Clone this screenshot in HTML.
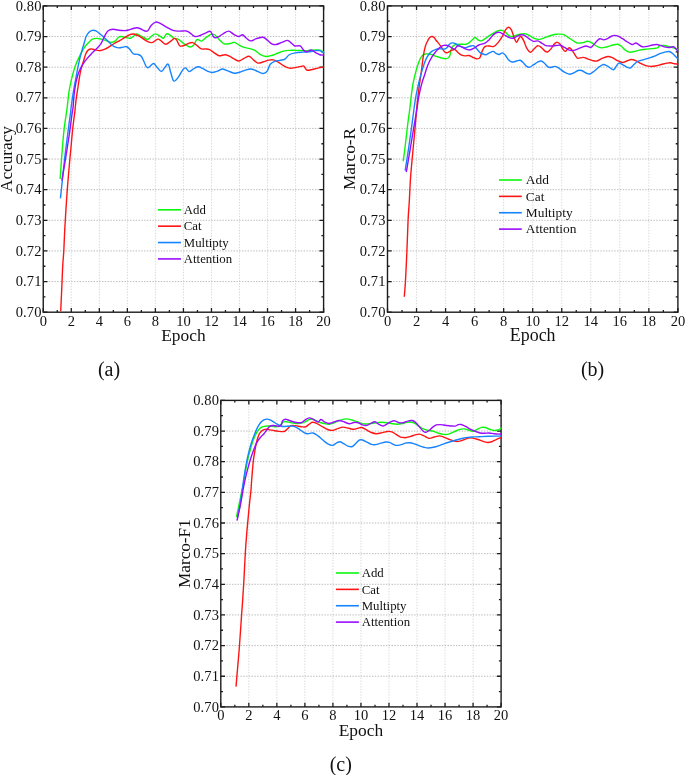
<!DOCTYPE html>
<html><head><meta charset="utf-8"><title>Figure</title>
<style>
html,body{margin:0;padding:0;background:#fff;}
body{width:685px;height:775px;overflow:hidden;}
svg{display:block;}
text{font-family:"Liberation Serif",serif;fill:#111;}
.tk{font-size:14.5px;}
.ty{letter-spacing:0.12px;}
.ax{font-size:17.2px;}
.lg{font-size:12.8px;}
.cp{font-size:20px;}
</style></head><body>
<svg width="685" height="775" viewBox="0 0 685 775">
<rect width="685" height="775" fill="#fff"/>
<g>
<path d="M71.28,5.90V312.20M99.32,5.90V312.20M127.36,5.90V312.20M155.39,5.90V312.20M183.43,5.90V312.20M211.46,5.90V312.20M239.50,5.90V312.20M267.53,5.90V312.20M295.57,5.90V312.20" fill="none" stroke="#d9d9d9" stroke-width="1" stroke-dasharray="1.4,1.4"/>
<path d="M43.25,36.53H323.60M43.25,67.16H323.60M43.25,97.79H323.60M43.25,128.42H323.60M43.25,159.05H323.60M43.25,189.68H323.60M43.25,220.31H323.60M43.25,250.94H323.60M43.25,281.57H323.60" fill="none" stroke="#bababa" stroke-width="1" stroke-dasharray="1.4,1.4"/>
<path d="M43.25,312.20v-4.20M43.25,5.90v4.20M57.27,312.20v-2.20M57.27,5.90v2.20M71.28,312.20v-4.20M71.28,5.90v4.20M85.30,312.20v-2.20M85.30,5.90v2.20M99.32,312.20v-4.20M99.32,5.90v4.20M113.34,312.20v-2.20M113.34,5.90v2.20M127.36,312.20v-4.20M127.36,5.90v4.20M141.37,312.20v-2.20M141.37,5.90v2.20M155.39,312.20v-4.20M155.39,5.90v4.20M169.41,312.20v-2.20M169.41,5.90v2.20M183.43,312.20v-4.20M183.43,5.90v4.20M197.44,312.20v-2.20M197.44,5.90v2.20M211.46,312.20v-4.20M211.46,5.90v4.20M225.48,312.20v-2.20M225.48,5.90v2.20M239.50,312.20v-4.20M239.50,5.90v4.20M253.51,312.20v-2.20M253.51,5.90v2.20M267.53,312.20v-4.20M267.53,5.90v4.20M281.55,312.20v-2.20M281.55,5.90v2.20M295.57,312.20v-4.20M295.57,5.90v4.20M309.58,312.20v-2.20M309.58,5.90v2.20M323.60,312.20v-4.20M323.60,5.90v4.20M43.25,5.90h4.20M323.60,5.90h-4.20M43.25,21.22h2.20M323.60,21.22h-2.20M43.25,36.53h4.20M323.60,36.53h-4.20M43.25,51.85h2.20M323.60,51.85h-2.20M43.25,67.16h4.20M323.60,67.16h-4.20M43.25,82.48h2.20M323.60,82.48h-2.20M43.25,97.79h4.20M323.60,97.79h-4.20M43.25,113.11h2.20M323.60,113.11h-2.20M43.25,128.42h4.20M323.60,128.42h-4.20M43.25,143.74h2.20M323.60,143.74h-2.20M43.25,159.05h4.20M323.60,159.05h-4.20M43.25,174.37h2.20M323.60,174.37h-2.20M43.25,189.68h4.20M323.60,189.68h-4.20M43.25,205.00h2.20M323.60,205.00h-2.20M43.25,220.31h4.20M323.60,220.31h-4.20M43.25,235.63h2.20M323.60,235.63h-2.20M43.25,250.94h4.20M323.60,250.94h-4.20M43.25,266.25h2.20M323.60,266.25h-2.20M43.25,281.57h4.20M323.60,281.57h-4.20M43.25,296.88h2.20M323.60,296.88h-2.20M43.25,312.20h4.20M323.60,312.20h-4.20" fill="none" stroke="#1c1c1c" stroke-width="1.3"/>
<rect x="43.25" y="5.90" width="280.35" height="306.30" fill="none" stroke="#1c1c1c" stroke-width="1.4"/>
<clipPath id="ca"><rect x="43.25" y="5.20" width="281.05" height="307.70"/></clipPath>
<g clip-path="url(#ca)" fill="none" stroke-width="1.4" stroke-linejoin="round" stroke-linecap="butt">
<path d="M60.15,179.05C60.44,174.91 61.24,162.51 61.90,154.23C62.55,145.96 63.22,137.12 64.09,129.42C64.96,121.71 66.31,114.11 67.11,107.98C67.90,101.85 68.20,97.09 68.86,92.63C69.52,88.17 70.32,84.59 71.05,81.23C71.78,77.87 72.51,75.09 73.25,72.46C73.98,69.82 74.56,67.78 75.44,65.44C76.32,63.10 77.41,60.76 78.51,58.42C79.61,56.08 80.77,53.60 82.02,51.40C83.26,49.21 84.65,46.94 85.96,45.26C87.28,43.58 88.85,42.34 89.91,41.32C90.97,40.29 91.20,39.61 92.34,39.12C93.47,38.64 95.26,38.39 96.72,38.39C98.18,38.39 99.39,38.71 101.09,39.12C102.80,39.54 105.23,40.34 106.93,40.88C108.64,41.41 109.98,42.29 111.31,42.34C112.65,42.38 113.75,42.02 114.96,41.17C116.18,40.32 117.52,38.00 118.61,37.23C119.71,36.45 120.32,36.45 121.53,36.50C122.75,36.55 124.45,37.23 125.91,37.52C127.37,37.81 128.95,38.54 130.29,38.25C131.63,37.96 132.85,36.47 133.94,35.77C135.04,35.06 135.77,34.01 136.86,34.01C137.96,34.01 139.17,35.06 140.51,35.77C141.85,36.47 143.67,37.64 144.89,38.25C146.11,38.86 146.64,39.83 147.81,39.42C148.98,39.00 150.61,36.69 151.90,35.77C153.19,34.84 154.21,33.82 155.55,33.87C156.89,33.92 158.59,35.33 159.93,36.06C161.27,36.79 162.48,38.61 163.58,38.25C164.67,37.88 165.40,34.40 166.50,33.87C167.59,33.33 168.93,34.31 170.15,35.04C171.36,35.77 172.46,37.57 173.80,38.25C175.13,38.93 176.47,38.20 178.18,39.12C179.88,40.05 182.07,42.48 184.01,43.80C185.96,45.11 188.27,46.76 189.85,47.01C191.44,47.25 192.29,46.52 193.50,45.26C194.72,43.99 195.82,40.10 197.15,39.42C198.49,38.73 200.07,41.46 201.53,41.17C202.99,40.88 204.45,38.76 205.91,37.66C207.37,36.57 208.83,35.09 210.29,34.60C211.75,34.11 213.21,33.94 214.67,34.74C216.13,35.55 217.47,37.91 219.05,39.42C220.63,40.92 222.32,43.11 224.16,43.80C226.00,44.48 228.39,43.75 230.11,43.50C231.83,43.26 233.03,42.09 234.49,42.34C235.95,42.58 237.29,44.11 238.87,44.96C240.45,45.82 242.15,46.84 243.98,47.45C245.80,48.05 247.99,48.13 249.82,48.61C251.64,49.10 253.22,49.42 254.93,50.36C256.63,51.31 258.21,53.28 260.04,54.31C261.86,55.33 263.93,56.30 265.88,56.50C267.82,56.69 269.77,56.01 271.72,55.47C273.66,54.94 275.61,54.01 277.55,53.28C279.50,52.55 281.45,51.58 283.39,51.09C285.34,50.61 286.80,50.49 289.23,50.36C291.67,50.24 295.07,50.32 297.99,50.36C300.91,50.41 303.83,50.73 306.75,50.66C309.67,50.58 313.32,50.02 315.51,49.93C317.70,49.83 318.63,49.76 319.89,50.07C321.16,50.39 322.35,51.41 323.10,51.82C323.85,52.23 324.18,52.41 324.40,52.53" stroke="#0CF60C"/>
<path d="M60.70,311.20C60.85,308.00 61.33,298.03 61.60,292.00C61.87,285.97 62.08,279.83 62.30,275.00C62.52,270.17 62.65,267.05 62.90,263.00C63.15,258.95 63.48,256.40 63.80,250.70C64.12,245.00 64.43,235.85 64.80,228.80C65.17,221.75 65.58,214.97 66.00,208.40C66.42,201.83 66.88,195.00 67.30,189.40C67.72,183.80 68.07,179.90 68.50,174.80C68.93,169.70 69.50,163.20 69.90,158.80C70.30,154.40 70.42,153.53 70.90,148.40C71.38,143.27 72.12,134.33 72.80,128.00C73.48,121.67 74.60,113.74 75.00,110.40C75.40,107.06 74.96,110.07 75.18,107.98C75.39,105.90 75.83,101.48 76.32,97.89C76.80,94.31 77.49,90.29 78.07,86.49C78.65,82.69 79.24,78.30 79.82,75.09C80.41,71.87 80.92,69.68 81.58,67.19C82.24,64.71 83.11,62.30 83.77,60.18C84.43,58.06 84.87,56.08 85.53,54.47C86.18,52.87 86.84,51.45 87.72,50.53C88.60,49.61 89.77,49.12 90.79,48.95C91.81,48.77 92.76,49.24 93.86,49.47C94.96,49.71 96.20,50.18 97.37,50.35C98.54,50.53 99.53,50.77 100.88,50.53C102.23,50.29 103.98,49.61 105.47,48.91C106.97,48.20 108.39,47.18 109.85,46.28C111.31,45.38 112.53,44.48 114.23,43.50C115.94,42.53 118.37,41.41 120.07,40.44C121.78,39.46 122.99,38.56 124.45,37.66C125.91,36.76 127.37,35.64 128.83,35.04C130.29,34.43 131.75,33.94 133.21,34.01C134.67,34.09 136.13,34.82 137.59,35.47C139.05,36.13 140.51,37.06 141.97,37.96C143.43,38.86 144.70,40.10 146.35,40.88C148.00,41.65 150.00,42.92 151.90,42.63C153.80,42.34 156.16,39.37 157.74,39.12C159.32,38.88 160.05,40.32 161.39,41.17C162.73,42.02 164.31,44.16 165.77,44.23C167.23,44.31 168.69,42.58 170.15,41.61C171.61,40.63 173.43,38.64 174.53,38.39C175.62,38.15 175.86,38.93 176.72,40.15C177.57,41.36 178.42,44.79 179.64,45.69C180.85,46.59 182.55,45.91 184.01,45.55C185.47,45.18 186.93,43.99 188.39,43.50C189.85,43.02 191.31,42.26 192.77,42.63C194.23,42.99 195.69,44.65 197.15,45.69C198.61,46.74 200.07,48.37 201.53,48.91C202.99,49.44 204.57,48.78 205.91,48.91C207.25,49.03 208.22,49.03 209.56,49.64C210.90,50.24 212.36,51.53 213.94,52.55C215.52,53.58 217.23,55.40 219.05,55.77C220.88,56.13 223.17,54.67 224.89,54.74C226.61,54.82 227.78,55.47 229.38,56.20C230.98,56.93 232.91,58.32 234.49,59.12C236.07,59.93 237.29,61.14 238.87,61.02C240.45,60.90 242.27,59.20 243.98,58.39C245.68,57.59 247.51,55.96 249.09,56.20C250.67,56.45 252.01,58.71 253.47,59.85C254.93,61.00 256.27,62.70 257.85,63.07C259.43,63.43 261.13,62.53 262.96,62.04C264.78,61.56 267.09,60.51 268.80,60.15C270.50,59.78 271.72,59.61 273.18,59.85C274.64,60.10 275.85,60.63 277.55,61.61C279.26,62.58 281.45,64.60 283.39,65.69C285.34,66.79 287.29,67.86 289.23,68.18C291.18,68.49 293.13,67.88 295.07,67.59C297.02,67.30 299.45,66.67 300.91,66.42C302.37,66.18 302.86,65.52 303.83,66.13C304.81,66.74 305.54,69.46 306.75,70.07C307.97,70.68 309.43,70.07 311.13,69.78C312.83,69.49 314.98,68.76 316.97,68.32C318.97,67.88 321.86,67.39 323.10,67.15C324.34,66.92 324.18,66.95 324.40,66.91" stroke="#FF1414"/>
<path d="M60.44,198.32C60.80,194.87 61.90,184.45 62.63,177.59C63.36,170.73 63.97,164.45 64.82,157.15C65.67,149.85 66.76,141.34 67.74,133.80C68.71,126.25 70.10,116.20 70.66,111.90C71.21,107.60 70.62,111.19 71.05,107.98C71.48,104.77 72.51,97.24 73.25,92.63C73.98,88.03 74.71,84.30 75.44,80.35C76.17,76.40 76.90,72.60 77.63,68.95C78.36,65.29 79.02,61.78 79.82,58.42C80.63,55.06 81.58,51.84 82.46,48.77C83.33,45.70 84.54,41.92 85.09,40.00C85.64,38.08 85.17,38.49 85.77,37.23C86.37,35.96 87.59,33.55 88.69,32.41C89.78,31.27 91.12,30.61 92.34,30.36C93.55,30.12 94.65,30.29 95.99,30.95C97.32,31.61 98.78,33.02 100.36,34.31C101.95,35.60 103.89,37.23 105.47,38.69C107.06,40.15 108.39,41.73 109.85,43.07C111.31,44.40 112.77,45.91 114.23,46.72C115.69,47.52 117.15,47.81 118.61,47.88C120.07,47.96 121.65,47.35 122.99,47.15C124.33,46.96 125.55,46.42 126.64,46.72C127.74,47.01 128.47,47.74 129.56,48.91C130.66,50.07 131.87,52.82 133.21,53.72C134.55,54.62 136.25,53.89 137.59,54.31C138.93,54.72 140.15,54.91 141.24,56.20C142.34,57.49 143.11,60.10 144.16,62.04C145.21,63.99 145.99,67.64 147.52,67.88C149.05,68.13 151.78,63.63 153.36,63.50C154.94,63.38 155.67,65.82 157.01,67.15C158.35,68.49 160.05,71.53 161.39,71.53C162.73,71.53 163.89,68.37 165.04,67.15C166.18,65.94 167.27,63.26 168.25,64.23C169.22,65.21 169.95,70.19 170.88,72.99C171.80,75.79 172.58,80.29 173.80,81.02C175.01,81.75 176.72,79.20 178.18,77.37C179.64,75.55 181.34,71.65 182.55,70.07C183.77,68.49 184.38,67.64 185.47,67.88C186.57,68.13 187.91,71.29 189.12,71.53C190.34,71.78 191.31,70.15 192.77,69.34C194.23,68.54 196.18,66.84 197.88,66.72C199.59,66.59 201.41,67.88 202.99,68.61C204.57,69.34 205.91,70.44 207.37,71.09C208.83,71.75 210.05,72.55 211.75,72.55C213.45,72.55 215.77,71.68 217.59,71.09C219.42,70.51 220.74,68.98 222.70,69.05C224.67,69.12 227.41,70.83 229.38,71.53C231.34,72.24 232.79,73.16 234.49,73.28C236.19,73.41 237.77,72.80 239.60,72.26C241.42,71.73 243.61,70.61 245.44,70.07C247.26,69.54 248.84,68.98 250.55,69.05C252.25,69.12 254.08,69.93 255.66,70.51C257.24,71.09 258.70,72.07 260.04,72.55C261.37,73.04 262.47,73.72 263.69,73.43C264.90,73.14 266.24,72.34 267.34,70.80C268.43,69.27 269.04,65.82 270.26,64.23C271.47,62.65 272.93,61.97 274.64,61.31C276.34,60.66 278.77,60.66 280.47,60.29C282.18,59.93 283.39,60.05 284.85,59.12C286.31,58.20 287.53,55.79 289.23,54.74C290.94,53.70 292.88,53.28 295.07,52.85C297.26,52.41 299.94,52.29 302.37,52.12C304.81,51.95 307.48,52.07 309.67,51.82C311.86,51.58 313.81,50.85 315.51,50.66C317.21,50.46 318.63,50.34 319.89,50.66C321.16,50.97 322.35,52.11 323.10,52.55C323.85,53.00 324.18,53.19 324.40,53.32" stroke="#1684FF"/>
<path d="M61.90,180.51C62.51,176.86 64.33,166.16 65.55,158.61C66.76,151.07 68.10,142.80 69.20,135.26C70.29,127.71 71.49,117.90 72.12,113.36C72.75,108.81 72.65,111.14 72.98,107.98C73.32,104.82 73.64,98.55 74.12,94.39C74.61,90.22 75.22,86.35 75.88,82.98C76.54,79.62 77.27,76.70 78.07,74.21C78.87,71.73 79.75,69.97 80.70,68.07C81.65,66.17 82.75,64.34 83.77,62.81C84.80,61.27 85.60,60.32 86.84,58.86C88.08,57.40 89.62,55.72 91.23,54.04C92.84,52.35 94.88,50.45 96.49,48.77C98.10,47.09 99.62,45.87 100.88,43.95C102.13,42.02 103.01,39.20 104.01,37.23C105.02,35.25 105.96,33.33 106.93,32.12C107.91,30.90 108.76,30.41 109.85,29.93C110.95,29.44 112.04,29.15 113.50,29.20C114.96,29.25 116.79,29.98 118.61,30.22C120.44,30.46 122.75,30.71 124.45,30.66C126.16,30.61 127.37,30.29 128.83,29.93C130.29,29.56 131.87,28.83 133.21,28.47C134.55,28.10 135.64,27.69 136.86,27.74C138.08,27.79 139.17,28.22 140.51,28.76C141.85,29.29 143.67,30.63 144.89,30.95C146.11,31.27 146.76,31.56 147.81,30.66C148.86,29.76 149.88,26.96 151.17,25.55C152.46,24.14 154.21,22.63 155.55,22.19C156.89,21.75 157.37,22.12 159.20,22.92C161.02,23.72 164.06,25.72 166.50,27.01C168.93,28.30 171.61,29.98 173.80,30.66C175.99,31.34 177.57,31.05 179.64,31.09C181.70,31.14 184.50,30.66 186.20,30.95C187.91,31.24 188.39,31.92 189.85,32.85C191.31,33.77 193.26,36.06 194.96,36.50C196.67,36.93 198.25,36.08 200.07,35.47C201.90,34.87 204.21,33.53 205.91,32.85C207.62,32.17 208.95,30.66 210.29,31.39C211.63,32.12 212.73,36.25 213.94,37.23C215.16,38.20 216.01,37.83 217.59,37.23C219.17,36.62 221.59,34.60 223.43,33.58C225.27,32.55 226.93,30.97 228.65,31.09C230.37,31.22 232.06,33.41 233.76,34.31C235.46,35.21 237.41,36.42 238.87,36.50C240.33,36.57 241.30,34.50 242.52,34.74C243.73,34.99 244.83,36.93 246.17,37.96C247.51,38.98 248.84,40.75 250.55,40.88C252.25,41.00 254.32,39.29 256.39,38.69C258.45,38.08 261.13,36.98 262.96,37.23C264.78,37.47 265.88,39.05 267.34,40.15C268.80,41.24 270.26,43.07 271.72,43.80C273.18,44.53 274.39,44.77 276.09,44.53C277.80,44.28 279.99,43.02 281.93,42.34C283.88,41.65 286.07,40.19 287.77,40.44C289.48,40.68 290.94,42.87 292.15,43.80C293.37,44.72 293.73,45.62 295.07,45.99C296.41,46.35 298.72,45.26 300.18,45.99C301.64,46.72 302.74,49.39 303.83,50.36C304.93,51.34 305.54,51.87 306.75,51.82C307.97,51.78 309.67,49.95 311.13,50.07C312.59,50.19 314.05,51.78 315.51,52.55C316.97,53.33 318.63,54.31 319.89,54.74C321.16,55.18 322.35,55.08 323.10,55.18C323.85,55.28 324.18,55.33 324.40,55.36" stroke="#9A0CFF"/>
</g>
<text x="43.25" y="325.50" text-anchor="middle" class="tk">0</text>
<text x="71.28" y="325.50" text-anchor="middle" class="tk">2</text>
<text x="99.32" y="325.50" text-anchor="middle" class="tk">4</text>
<text x="127.36" y="325.50" text-anchor="middle" class="tk">6</text>
<text x="155.39" y="325.50" text-anchor="middle" class="tk">8</text>
<text x="183.43" y="325.50" text-anchor="middle" class="tk">10</text>
<text x="211.46" y="325.50" text-anchor="middle" class="tk">12</text>
<text x="239.50" y="325.50" text-anchor="middle" class="tk">14</text>
<text x="267.53" y="325.50" text-anchor="middle" class="tk">16</text>
<text x="295.57" y="325.50" text-anchor="middle" class="tk">18</text>
<text x="323.60" y="325.50" text-anchor="middle" class="tk">20</text>
<text x="41.60" y="10.60" text-anchor="end" class="tk ty">0.80</text>
<text x="41.60" y="41.23" text-anchor="end" class="tk ty">0.79</text>
<text x="41.60" y="71.86" text-anchor="end" class="tk ty">0.78</text>
<text x="41.60" y="102.49" text-anchor="end" class="tk ty">0.77</text>
<text x="41.60" y="133.12" text-anchor="end" class="tk ty">0.76</text>
<text x="41.60" y="163.75" text-anchor="end" class="tk ty">0.75</text>
<text x="41.60" y="194.38" text-anchor="end" class="tk ty">0.74</text>
<text x="41.60" y="225.01" text-anchor="end" class="tk ty">0.73</text>
<text x="41.60" y="255.64" text-anchor="end" class="tk ty">0.72</text>
<text x="41.60" y="286.27" text-anchor="end" class="tk ty">0.71</text>
<text x="41.60" y="316.90" text-anchor="end" class="tk ty">0.70</text>
<text x="183.43" y="341.20" text-anchor="middle" class="ax" style="font-size:17.4px">Epoch</text>
<text transform="translate(12.20,159.05) rotate(-90)" text-anchor="middle" class="ax">Accuracy</text>
<path d="M158.00,209.80h23.00" stroke="#0CF60C" stroke-width="1.6" fill="none"/>
<text x="183.80" y="214.00" class="lg" style="font-size:12.8px">Add</text>
<path d="M158.00,226.17h23.00" stroke="#FF1414" stroke-width="1.6" fill="none"/>
<text x="183.80" y="230.37" class="lg" style="font-size:12.8px">Cat</text>
<path d="M158.00,242.54h23.00" stroke="#1684FF" stroke-width="1.6" fill="none"/>
<text x="183.80" y="246.74" class="lg" style="font-size:12.8px">Multipty</text>
<path d="M158.00,258.91h23.00" stroke="#9A0CFF" stroke-width="1.6" fill="none"/>
<text x="183.80" y="263.11" class="lg" style="font-size:12.8px">Attention</text>
</g>
<g>
<path d="M416.54,5.90V312.20M445.58,5.90V312.20M474.62,5.90V312.20M503.66,5.90V312.20M532.70,5.90V312.20M561.74,5.90V312.20M590.78,5.90V312.20M619.82,5.90V312.20M648.86,5.90V312.20" fill="none" stroke="#d9d9d9" stroke-width="1" stroke-dasharray="1.4,1.4"/>
<path d="M387.50,36.53H677.90M387.50,67.16H677.90M387.50,97.79H677.90M387.50,128.42H677.90M387.50,159.05H677.90M387.50,189.68H677.90M387.50,220.31H677.90M387.50,250.94H677.90M387.50,281.57H677.90" fill="none" stroke="#bababa" stroke-width="1" stroke-dasharray="1.4,1.4"/>
<path d="M387.50,312.20v-4.20M387.50,5.90v4.20M402.02,312.20v-2.20M402.02,5.90v2.20M416.54,312.20v-4.20M416.54,5.90v4.20M431.06,312.20v-2.20M431.06,5.90v2.20M445.58,312.20v-4.20M445.58,5.90v4.20M460.10,312.20v-2.20M460.10,5.90v2.20M474.62,312.20v-4.20M474.62,5.90v4.20M489.14,312.20v-2.20M489.14,5.90v2.20M503.66,312.20v-4.20M503.66,5.90v4.20M518.18,312.20v-2.20M518.18,5.90v2.20M532.70,312.20v-4.20M532.70,5.90v4.20M547.22,312.20v-2.20M547.22,5.90v2.20M561.74,312.20v-4.20M561.74,5.90v4.20M576.26,312.20v-2.20M576.26,5.90v2.20M590.78,312.20v-4.20M590.78,5.90v4.20M605.30,312.20v-2.20M605.30,5.90v2.20M619.82,312.20v-4.20M619.82,5.90v4.20M634.34,312.20v-2.20M634.34,5.90v2.20M648.86,312.20v-4.20M648.86,5.90v4.20M663.38,312.20v-2.20M663.38,5.90v2.20M677.90,312.20v-4.20M677.90,5.90v4.20M387.50,5.90h4.20M677.90,5.90h-4.20M387.50,21.22h2.20M677.90,21.22h-2.20M387.50,36.53h4.20M677.90,36.53h-4.20M387.50,51.85h2.20M677.90,51.85h-2.20M387.50,67.16h4.20M677.90,67.16h-4.20M387.50,82.48h2.20M677.90,82.48h-2.20M387.50,97.79h4.20M677.90,97.79h-4.20M387.50,113.11h2.20M677.90,113.11h-2.20M387.50,128.42h4.20M677.90,128.42h-4.20M387.50,143.74h2.20M677.90,143.74h-2.20M387.50,159.05h4.20M677.90,159.05h-4.20M387.50,174.37h2.20M677.90,174.37h-2.20M387.50,189.68h4.20M677.90,189.68h-4.20M387.50,205.00h2.20M677.90,205.00h-2.20M387.50,220.31h4.20M677.90,220.31h-4.20M387.50,235.63h2.20M677.90,235.63h-2.20M387.50,250.94h4.20M677.90,250.94h-4.20M387.50,266.25h2.20M677.90,266.25h-2.20M387.50,281.57h4.20M677.90,281.57h-4.20M387.50,296.88h2.20M677.90,296.88h-2.20M387.50,312.20h4.20M677.90,312.20h-4.20" fill="none" stroke="#1c1c1c" stroke-width="1.3"/>
<rect x="387.50" y="5.90" width="290.40" height="306.30" fill="none" stroke="#1c1c1c" stroke-width="1.4"/>
<clipPath id="cb"><rect x="387.50" y="5.20" width="291.10" height="307.70"/></clipPath>
<g clip-path="url(#cb)" fill="none" stroke-width="1.4" stroke-linejoin="round" stroke-linecap="butt">
<path d="M403.25,161.24C403.61,158.37 404.71,150.05 405.44,144.01C406.17,137.98 406.88,131.04 407.63,125.04C408.37,119.03 409.31,112.80 409.91,107.98C410.51,103.17 410.72,100.16 411.23,96.14C411.74,92.12 412.32,87.51 412.98,83.86C413.64,80.20 414.44,77.13 415.18,74.21C415.91,71.29 416.56,68.80 417.37,66.32C418.17,63.83 419.12,61.13 420.00,59.30C420.88,57.47 421.75,56.23 422.63,55.35C423.51,54.47 424.24,54.25 425.26,54.04C426.29,53.82 427.68,53.93 428.77,54.04C429.87,54.14 430.75,54.31 431.84,54.65C432.94,54.99 434.18,55.64 435.35,56.05C436.52,56.46 437.69,56.75 438.86,57.11C440.03,57.46 441.27,57.89 442.37,58.16C443.46,58.42 444.49,58.71 445.44,58.68C446.39,58.65 447.34,58.46 448.07,57.98C448.80,57.50 449.39,56.89 449.82,55.79C450.26,54.69 450.34,52.79 450.70,51.40C451.07,50.01 451.51,48.45 452.02,47.46C452.53,46.46 453.02,45.93 453.77,45.44C454.52,44.95 455.34,44.73 456.53,44.53C457.72,44.32 459.33,44.28 460.91,44.23C462.49,44.18 464.56,44.55 466.02,44.23C467.48,43.92 468.58,43.14 469.67,42.34C470.77,41.53 471.67,40.22 472.59,39.42C473.52,38.61 474.25,37.40 475.22,37.52C476.19,37.64 477.41,39.59 478.43,40.15C479.45,40.71 480.36,41.05 481.35,40.88C482.34,40.71 483.14,39.90 484.38,39.12C485.61,38.35 487.30,37.18 488.76,36.20C490.22,35.23 491.68,34.16 493.14,33.28C494.60,32.41 496.06,31.44 497.52,30.95C498.98,30.46 500.56,30.12 501.90,30.36C503.24,30.61 504.33,31.51 505.55,32.41C506.76,33.31 507.98,35.09 509.20,35.77C510.41,36.45 511.51,36.62 512.85,36.50C514.18,36.37 515.77,35.45 517.23,35.04C518.69,34.62 520.15,34.21 521.61,34.01C523.07,33.82 524.53,33.50 525.99,33.87C527.45,34.23 528.91,35.40 530.36,36.20C531.82,37.01 533.28,38.15 534.74,38.69C536.20,39.22 537.54,39.54 539.12,39.42C540.71,39.29 542.41,38.56 544.23,37.96C546.06,37.35 548.13,36.37 550.07,35.77C552.02,35.16 554.21,34.57 555.91,34.31C557.62,34.04 558.83,34.04 560.29,34.16C561.75,34.28 563.21,34.40 564.67,35.04C566.13,35.67 567.47,36.91 569.05,37.96C570.63,39.00 572.67,40.46 574.16,41.31C575.65,42.17 576.51,42.85 578.00,43.07C579.49,43.28 581.53,42.92 583.11,42.63C584.69,42.34 586.03,41.29 587.49,41.31C588.95,41.34 590.41,42.00 591.87,42.77C593.33,43.55 594.67,45.13 596.25,45.99C597.83,46.84 599.53,47.76 601.36,47.88C603.18,48.00 605.25,47.20 607.20,46.72C609.14,46.23 611.33,45.38 613.04,44.96C614.74,44.55 616.08,44.06 617.42,44.23C618.75,44.40 619.85,45.09 621.07,45.99C622.28,46.89 623.38,48.61 624.72,49.64C626.05,50.66 627.51,51.80 629.09,52.12C630.68,52.43 632.50,51.87 634.20,51.53C635.91,51.19 637.49,50.46 639.31,50.07C641.14,49.68 642.96,49.44 645.15,49.20C647.34,48.95 650.38,48.83 652.45,48.61C654.52,48.39 656.35,48.39 657.56,47.88C658.78,47.37 658.66,45.94 659.75,45.55C660.85,45.16 662.55,45.35 664.13,45.55C665.71,45.74 667.54,46.28 669.24,46.72C670.94,47.15 673.01,47.69 674.35,48.18C675.69,48.66 676.55,49.27 677.27,49.64C678.00,50.00 678.46,50.23 678.70,50.35" stroke="#0CF60C"/>
<path d="M404.27,296.79C404.46,294.28 405.00,289.37 405.44,281.75C405.88,274.14 406.46,261.31 406.90,251.09C407.34,240.88 407.65,228.95 408.07,220.44C408.48,211.92 408.97,207.14 409.38,200.00C409.79,192.86 409.99,185.46 410.55,177.59C411.11,169.72 412.01,160.80 412.74,152.77C413.47,144.74 414.26,136.88 414.93,129.42C415.60,121.95 416.25,113.53 416.75,107.98C417.26,102.44 417.51,100.16 417.98,96.14C418.45,92.12 419.01,87.95 419.56,83.86C420.12,79.77 420.80,75.38 421.32,71.58C421.83,67.78 422.19,64.27 422.63,61.05C423.07,57.84 423.44,54.91 423.95,52.28C424.46,49.65 425.04,47.24 425.70,45.26C426.36,43.29 427.26,41.71 427.89,40.44C428.53,39.17 428.89,38.32 429.53,37.66C430.16,37.01 430.99,36.57 431.72,36.50C432.45,36.42 433.23,36.64 433.91,37.23C434.58,37.81 435.04,39.03 435.79,40.00C436.54,40.97 437.54,41.97 438.42,43.07C439.30,44.17 440.25,45.41 441.05,46.58C441.86,47.75 442.59,49.14 443.25,50.09C443.90,51.04 444.42,51.84 445.00,52.28C445.58,52.72 446.10,52.79 446.75,52.72C447.41,52.65 448.14,52.24 448.95,51.84C449.75,51.45 450.57,50.72 451.58,50.35C452.59,49.99 453.93,49.28 455.00,49.65C456.07,50.02 456.89,51.63 457.99,52.55C459.10,53.48 460.43,54.62 461.64,55.18C462.86,55.74 464.08,55.86 465.29,55.91C466.51,55.96 467.73,55.26 468.94,55.47C470.16,55.69 471.25,56.67 472.59,57.23C473.93,57.79 475.75,58.76 476.97,58.83C478.19,58.91 479.02,58.95 479.89,57.66C480.76,56.37 481.32,52.97 482.19,51.09C483.06,49.22 483.89,47.27 485.11,46.42C486.33,45.57 488.03,45.99 489.49,45.99C490.95,45.99 492.41,47.03 493.87,46.42C495.33,45.82 496.79,44.11 498.25,42.34C499.71,40.56 501.41,37.83 502.63,35.77C503.84,33.70 504.57,31.34 505.55,29.93C506.52,28.52 507.49,27.30 508.47,27.30C509.44,27.30 510.41,28.15 511.39,29.93C512.36,31.70 513.45,35.89 514.31,37.96C515.16,40.02 515.77,42.21 516.50,42.34C517.23,42.46 517.96,39.66 518.69,38.69C519.42,37.71 520.02,36.13 520.88,36.50C521.73,36.86 522.82,38.93 523.80,40.88C524.77,42.82 525.62,46.28 526.72,48.18C527.81,50.07 529.15,52.14 530.36,52.26C531.58,52.38 532.80,50.00 534.01,48.91C535.23,47.81 536.45,45.94 537.66,45.69C538.88,45.45 540.10,46.55 541.31,47.45C542.53,48.35 543.87,50.36 544.96,51.09C546.06,51.82 546.79,52.31 547.88,51.82C548.98,51.34 550.44,49.51 551.53,48.18C552.63,46.84 553.48,44.77 554.45,43.80C555.43,42.82 556.40,42.21 557.37,42.34C558.35,42.46 559.32,43.31 560.29,44.53C561.27,45.74 562.36,48.49 563.21,49.64C564.06,50.78 564.67,51.51 565.40,51.39C566.13,51.27 566.86,49.49 567.59,48.91C568.32,48.32 568.93,47.52 569.78,47.88C570.63,48.25 571.61,49.59 572.70,51.09C573.80,52.60 575.47,55.72 576.35,56.93C577.23,58.15 576.87,58.32 578.00,58.39C579.13,58.47 581.53,57.30 583.11,57.37C584.69,57.45 585.91,58.30 587.49,58.83C589.07,59.37 591.02,60.22 592.60,60.58C594.18,60.95 595.40,61.39 596.98,61.02C598.56,60.66 600.26,59.15 602.09,58.39C603.91,57.64 606.22,56.62 607.93,56.50C609.63,56.37 610.73,56.98 612.31,57.66C613.89,58.35 615.71,59.78 617.42,60.58C619.12,61.39 620.94,62.41 622.53,62.48C624.11,62.55 625.45,61.51 626.91,61.02C628.36,60.54 629.82,59.64 631.28,59.56C632.74,59.49 634.20,60.00 635.66,60.58C637.12,61.17 638.46,62.26 640.04,63.07C641.63,63.87 643.45,64.84 645.15,65.40C646.86,65.96 648.56,66.33 650.26,66.42C651.97,66.52 653.55,66.30 655.37,65.99C657.20,65.67 659.27,65.01 661.21,64.53C663.16,64.04 665.47,63.36 667.05,63.07C668.63,62.77 669.48,62.65 670.70,62.77C671.92,62.90 673.26,63.60 674.35,63.80C675.45,63.99 676.55,63.91 677.27,63.94C678.00,63.98 678.46,64.00 678.70,64.01" stroke="#FF1414"/>
<path d="M405.15,170.58C405.68,167.13 407.34,156.72 408.36,149.85C409.38,142.99 410.32,136.39 411.28,129.42C412.24,122.44 413.40,113.24 414.12,107.98C414.85,102.73 415.07,101.04 415.61,97.89C416.15,94.75 416.71,92.19 417.37,89.12C418.03,86.05 418.83,82.40 419.56,79.47C420.29,76.55 421.02,74.06 421.75,71.58C422.49,69.09 423.22,66.68 423.95,64.56C424.68,62.44 425.34,60.54 426.14,58.86C426.94,57.18 427.82,55.72 428.77,54.47C429.72,53.23 430.75,52.21 431.84,51.40C432.94,50.60 434.18,50.09 435.35,49.65C436.52,49.21 437.69,48.87 438.86,48.77C440.03,48.67 441.35,49.01 442.37,49.04C443.39,49.06 444.20,49.21 445.00,48.95C445.80,48.68 446.54,48.14 447.19,47.46C447.85,46.77 448.29,45.56 448.95,44.82C449.61,44.09 450.41,43.39 451.14,43.07C451.87,42.75 452.69,42.82 453.33,42.89C453.98,42.97 454.35,43.24 455.00,43.51C455.65,43.78 456.28,43.99 457.26,44.53C458.25,45.06 459.57,46.18 460.91,46.72C462.25,47.25 463.83,47.81 465.29,47.74C466.75,47.66 468.33,46.62 469.67,46.28C471.01,45.94 472.23,45.38 473.32,45.69C474.42,46.01 475.15,47.03 476.24,48.18C477.34,49.32 478.90,51.63 479.89,52.55C480.88,53.48 481.20,53.36 482.19,53.72C483.18,54.09 484.62,54.89 485.84,54.74C487.06,54.60 488.27,53.41 489.49,52.85C490.71,52.29 492.04,51.31 493.14,51.39C494.23,51.46 495.09,52.77 496.06,53.28C497.03,53.80 497.88,54.53 498.98,54.45C500.07,54.38 501.53,52.68 502.63,52.85C503.72,53.02 504.57,54.31 505.55,55.47C506.52,56.64 507.37,58.76 508.47,59.85C509.56,60.95 510.78,61.85 512.12,62.04C513.45,62.24 515.16,61.31 516.50,61.02C517.83,60.73 519.05,60.05 520.15,60.29C521.24,60.54 521.97,61.46 523.07,62.48C524.16,63.50 525.62,65.64 526.72,66.42C527.81,67.20 528.54,67.40 529.64,67.15C530.73,66.91 531.95,65.82 533.28,64.96C534.62,64.11 536.33,62.70 537.66,62.04C539.00,61.39 540.22,60.85 541.31,61.02C542.41,61.19 543.14,62.09 544.23,63.07C545.33,64.04 546.79,66.13 547.88,66.86C548.98,67.59 549.59,67.52 550.80,67.45C552.02,67.37 553.72,66.23 555.18,66.42C556.64,66.62 558.10,67.69 559.56,68.61C561.02,69.54 562.36,71.05 563.94,71.97C565.52,72.90 567.47,73.99 569.05,74.16C570.63,74.33 571.94,73.60 573.43,72.99C574.92,72.38 576.63,70.92 578.00,70.51C579.37,70.10 580.31,70.10 581.65,70.51C582.99,70.92 584.69,72.41 586.03,72.99C587.37,73.58 588.34,74.31 589.68,74.01C591.02,73.72 592.48,72.43 594.06,71.24C595.64,70.05 597.59,67.98 599.17,66.86C600.75,65.74 602.21,64.67 603.55,64.53C604.89,64.38 605.98,65.35 607.20,65.99C608.41,66.62 609.75,67.71 610.85,68.32C611.94,68.93 612.79,70.07 613.77,69.64C614.74,69.20 615.83,66.79 616.69,65.69C617.54,64.60 617.90,63.26 618.88,63.07C619.85,62.87 621.19,63.84 622.53,64.53C623.86,65.21 625.57,66.59 626.91,67.15C628.24,67.71 629.34,68.37 630.55,67.88C631.77,67.40 632.99,65.33 634.20,64.23C635.42,63.14 636.39,62.04 637.85,61.31C639.31,60.58 641.14,60.39 642.96,59.85C644.79,59.32 646.86,58.71 648.80,58.10C650.75,57.49 652.82,56.93 654.64,56.20C656.47,55.47 658.05,54.40 659.75,53.72C661.45,53.04 663.28,52.48 664.86,52.12C666.44,51.75 667.90,51.27 669.24,51.53C670.58,51.80 671.55,52.58 672.89,53.72C674.23,54.87 676.30,57.38 677.27,58.39C678.24,59.41 678.46,59.59 678.70,59.82" stroke="#1684FF"/>
<path d="M406.31,172.04C406.90,168.59 408.63,158.42 409.82,151.31C411.01,144.21 412.25,136.64 413.47,129.42C414.68,122.19 416.31,112.94 417.11,107.98C417.90,103.02 417.76,102.50 418.25,99.65C418.73,96.80 419.34,93.80 420.00,90.88C420.66,87.95 421.39,84.88 422.19,82.11C423.00,79.33 424.02,76.70 424.82,74.21C425.63,71.73 426.29,69.24 427.02,67.19C427.75,65.15 428.41,63.61 429.21,61.93C430.01,60.25 430.89,58.64 431.84,57.11C432.79,55.57 433.89,54.04 434.91,52.72C435.94,51.40 436.96,50.23 437.98,49.21C439.01,48.19 440.10,47.21 441.05,46.58C442.00,45.95 442.88,45.66 443.68,45.44C444.49,45.22 445.07,45.18 445.88,45.26C446.68,45.35 447.63,45.60 448.51,45.96C449.39,46.33 450.34,47.02 451.14,47.46C451.94,47.89 452.69,48.35 453.33,48.60C453.98,48.85 454.35,49.38 455.00,48.95C455.65,48.51 456.28,46.41 457.26,45.99C458.25,45.56 459.57,45.94 460.91,46.42C462.25,46.91 463.83,48.32 465.29,48.91C466.75,49.49 468.21,50.05 469.67,49.93C471.13,49.81 472.59,48.95 474.05,48.18C475.51,47.40 476.59,46.11 478.43,45.26C480.27,44.40 483.39,43.92 485.11,43.07C486.83,42.21 487.54,41.36 488.76,40.15C489.98,38.93 491.19,36.98 492.41,35.77C493.63,34.55 494.84,33.41 496.06,32.85C497.27,32.29 498.37,32.09 499.71,32.41C501.05,32.73 502.63,33.94 504.09,34.74C505.55,35.55 507.01,36.64 508.47,37.23C509.93,37.81 511.39,38.42 512.85,38.25C514.31,38.08 515.77,36.79 517.23,36.20C518.69,35.62 520.27,34.82 521.61,34.74C522.94,34.67 523.92,35.04 525.26,35.77C526.59,36.50 528.30,38.20 529.64,39.12C530.97,40.05 531.95,41.02 533.28,41.31C534.62,41.61 536.33,40.63 537.66,40.88C539.00,41.12 539.98,42.00 541.31,42.77C542.65,43.55 543.99,45.01 545.69,45.55C547.40,46.08 549.83,45.99 551.53,45.99C553.24,45.99 554.45,45.67 555.91,45.55C557.37,45.43 558.83,44.94 560.29,45.26C561.75,45.57 563.21,46.64 564.67,47.45C566.13,48.25 567.59,49.59 569.05,50.07C570.51,50.56 571.94,50.56 573.43,50.36C574.92,50.17 576.51,49.44 578.00,48.91C579.49,48.37 581.04,47.64 582.38,47.15C583.72,46.67 584.69,45.94 586.03,45.99C587.37,46.03 589.19,47.57 590.41,47.45C591.63,47.32 592.23,46.35 593.33,45.26C594.42,44.16 595.88,41.97 596.98,40.88C598.07,39.78 598.80,38.86 599.90,38.69C600.99,38.52 602.33,39.85 603.55,39.85C604.76,39.85 605.98,39.25 607.20,38.69C608.41,38.13 609.63,37.06 610.85,36.50C612.06,35.94 613.28,35.38 614.50,35.33C615.71,35.28 616.81,35.64 618.15,36.20C619.48,36.76 621.07,37.79 622.53,38.69C623.99,39.59 625.32,40.63 626.91,41.61C628.49,42.58 630.55,44.28 632.01,44.53C633.47,44.77 634.57,43.07 635.66,43.07C636.76,43.07 637.49,43.92 638.58,44.53C639.68,45.13 640.77,46.40 642.23,46.72C643.69,47.03 645.64,46.72 647.34,46.42C649.05,46.13 650.87,45.28 652.45,44.96C654.03,44.65 655.37,44.40 656.83,44.53C658.29,44.65 659.75,45.26 661.21,45.69C662.67,46.13 664.13,46.86 665.59,47.15C667.05,47.45 668.63,47.52 669.97,47.45C671.31,47.37 672.40,46.23 673.62,46.72C674.84,47.20 676.42,49.52 677.27,50.36C678.12,51.21 678.46,51.56 678.70,51.79" stroke="#9A0CFF"/>
</g>
<text x="387.50" y="325.50" text-anchor="middle" class="tk">0</text>
<text x="416.54" y="325.50" text-anchor="middle" class="tk">2</text>
<text x="445.58" y="325.50" text-anchor="middle" class="tk">4</text>
<text x="474.62" y="325.50" text-anchor="middle" class="tk">6</text>
<text x="503.66" y="325.50" text-anchor="middle" class="tk">8</text>
<text x="532.70" y="325.50" text-anchor="middle" class="tk">10</text>
<text x="561.74" y="325.50" text-anchor="middle" class="tk">12</text>
<text x="590.78" y="325.50" text-anchor="middle" class="tk">14</text>
<text x="619.82" y="325.50" text-anchor="middle" class="tk">16</text>
<text x="648.86" y="325.50" text-anchor="middle" class="tk">18</text>
<text x="677.90" y="325.50" text-anchor="middle" class="tk">20</text>
<text x="385.60" y="10.60" text-anchor="end" class="tk ty">0.80</text>
<text x="385.60" y="41.23" text-anchor="end" class="tk ty">0.79</text>
<text x="385.60" y="71.86" text-anchor="end" class="tk ty">0.78</text>
<text x="385.60" y="102.49" text-anchor="end" class="tk ty">0.77</text>
<text x="385.60" y="133.12" text-anchor="end" class="tk ty">0.76</text>
<text x="385.60" y="163.75" text-anchor="end" class="tk ty">0.75</text>
<text x="385.60" y="194.38" text-anchor="end" class="tk ty">0.74</text>
<text x="385.60" y="225.01" text-anchor="end" class="tk ty">0.73</text>
<text x="385.60" y="255.64" text-anchor="end" class="tk ty">0.72</text>
<text x="385.60" y="286.27" text-anchor="end" class="tk ty">0.71</text>
<text x="385.60" y="316.90" text-anchor="end" class="tk ty">0.70</text>
<text x="532.70" y="341.20" text-anchor="middle" class="ax" style="font-size:17.9px">Epoch</text>
<text transform="translate(355.20,159.05) rotate(-90)" text-anchor="middle" class="ax">Marco-R</text>
<path d="M499.00,180.00h22.80" stroke="#0CF60C" stroke-width="1.6" fill="none"/>
<text x="525.80" y="184.20" class="lg" style="font-size:13.4px">Add</text>
<path d="M499.00,196.37h22.80" stroke="#FF1414" stroke-width="1.6" fill="none"/>
<text x="525.80" y="200.57" class="lg" style="font-size:13.4px">Cat</text>
<path d="M499.00,212.74h22.80" stroke="#1684FF" stroke-width="1.6" fill="none"/>
<text x="525.80" y="216.94" class="lg" style="font-size:13.4px">Multipty</text>
<path d="M499.00,229.11h22.80" stroke="#9A0CFF" stroke-width="1.6" fill="none"/>
<text x="525.80" y="233.31" class="lg" style="font-size:13.4px">Attention</text>
</g>
<g>
<path d="M248.83,400.40V706.90M276.86,400.40V706.90M304.89,400.40V706.90M332.92,400.40V706.90M360.95,400.40V706.90M388.98,400.40V706.90M417.01,400.40V706.90M445.04,400.40V706.90M473.07,400.40V706.90" fill="none" stroke="#d9d9d9" stroke-width="1" stroke-dasharray="1.4,1.4"/>
<path d="M220.80,431.05H501.10M220.80,461.70H501.10M220.80,492.35H501.10M220.80,523.00H501.10M220.80,553.65H501.10M220.80,584.30H501.10M220.80,614.95H501.10M220.80,645.60H501.10M220.80,676.25H501.10" fill="none" stroke="#bababa" stroke-width="1" stroke-dasharray="1.4,1.4"/>
<path d="M220.80,706.90v-4.20M220.80,400.40v4.20M234.81,706.90v-2.20M234.81,400.40v2.20M248.83,706.90v-4.20M248.83,400.40v4.20M262.85,706.90v-2.20M262.85,400.40v2.20M276.86,706.90v-4.20M276.86,400.40v4.20M290.88,706.90v-2.20M290.88,400.40v2.20M304.89,706.90v-4.20M304.89,400.40v4.20M318.91,706.90v-2.20M318.91,400.40v2.20M332.92,706.90v-4.20M332.92,400.40v4.20M346.94,706.90v-2.20M346.94,400.40v2.20M360.95,706.90v-4.20M360.95,400.40v4.20M374.97,706.90v-2.20M374.97,400.40v2.20M388.98,706.90v-4.20M388.98,400.40v4.20M403.00,706.90v-2.20M403.00,400.40v2.20M417.01,706.90v-4.20M417.01,400.40v4.20M431.03,706.90v-2.20M431.03,400.40v2.20M445.04,706.90v-4.20M445.04,400.40v4.20M459.06,706.90v-2.20M459.06,400.40v2.20M473.07,706.90v-4.20M473.07,400.40v4.20M487.09,706.90v-2.20M487.09,400.40v2.20M501.10,706.90v-4.20M501.10,400.40v4.20M220.80,400.40h4.20M501.10,400.40h-4.20M220.80,415.72h2.20M501.10,415.72h-2.20M220.80,431.05h4.20M501.10,431.05h-4.20M220.80,446.38h2.20M501.10,446.38h-2.20M220.80,461.70h4.20M501.10,461.70h-4.20M220.80,477.02h2.20M501.10,477.02h-2.20M220.80,492.35h4.20M501.10,492.35h-4.20M220.80,507.67h2.20M501.10,507.67h-2.20M220.80,523.00h4.20M501.10,523.00h-4.20M220.80,538.32h2.20M501.10,538.32h-2.20M220.80,553.65h4.20M501.10,553.65h-4.20M220.80,568.97h2.20M501.10,568.97h-2.20M220.80,584.30h4.20M501.10,584.30h-4.20M220.80,599.62h2.20M501.10,599.62h-2.20M220.80,614.95h4.20M501.10,614.95h-4.20M220.80,630.27h2.20M501.10,630.27h-2.20M220.80,645.60h4.20M501.10,645.60h-4.20M220.80,660.92h2.20M501.10,660.92h-2.20M220.80,676.25h4.20M501.10,676.25h-4.20M220.80,691.58h2.20M501.10,691.58h-2.20M220.80,706.90h4.20M501.10,706.90h-4.20" fill="none" stroke="#1c1c1c" stroke-width="1.3"/>
<rect x="220.80" y="400.40" width="280.30" height="306.50" fill="none" stroke="#1c1c1c" stroke-width="1.4"/>
<clipPath id="cc"><rect x="220.80" y="399.70" width="281.00" height="307.90"/></clipPath>
<g clip-path="url(#cc)" fill="none" stroke-width="1.4" stroke-linejoin="round" stroke-linecap="butt">
<path d="M236.54,517.01C237.00,514.70 238.39,507.64 239.31,503.14C240.24,498.64 241.46,492.86 242.09,490.00C242.72,487.14 242.66,488.33 243.09,485.98C243.52,483.63 244.11,479.18 244.67,475.89C245.22,472.61 245.84,469.24 246.42,466.25C247.01,463.25 247.52,460.69 248.18,457.91C248.83,455.13 249.64,452.21 250.37,449.58C251.10,446.95 251.76,444.46 252.56,442.12C253.37,439.78 254.32,437.44 255.19,435.54C256.07,433.64 256.87,432.04 257.82,430.72C258.77,429.40 259.87,428.38 260.89,427.65C261.92,426.92 262.87,426.60 263.96,426.33C265.06,426.07 266.16,426.07 267.47,426.07C268.79,426.07 270.47,426.22 271.86,426.33C273.25,426.45 274.64,426.77 275.81,426.77C276.98,426.77 278.00,426.70 278.88,426.33C279.75,425.97 280.41,425.24 281.07,424.58C281.73,423.92 282.17,422.90 282.82,422.39C283.48,421.87 283.66,421.45 285.02,421.51C286.38,421.57 289.15,422.41 290.99,422.74C292.84,423.06 294.40,423.39 296.10,423.47C297.81,423.54 299.63,423.47 301.21,423.18C302.79,422.88 304.25,422.32 305.59,421.72C306.93,421.11 308.02,419.96 309.24,419.53C310.46,419.09 311.30,418.67 312.89,419.09C314.48,419.50 316.93,421.28 318.76,422.01C320.59,422.74 322.17,423.10 323.87,423.47C325.57,423.83 327.27,424.32 328.98,424.20C330.68,424.08 332.38,423.35 334.09,422.74C335.79,422.13 337.49,421.16 339.20,420.55C340.90,419.94 342.73,419.33 344.31,419.09C345.89,418.84 347.10,418.84 348.69,419.09C350.27,419.33 352.09,419.99 353.80,420.55C355.50,421.11 357.20,421.89 358.91,422.45C360.61,423.00 362.19,423.69 364.01,423.91C365.84,424.12 367.91,423.95 369.85,423.76C371.80,423.56 373.75,422.98 375.69,422.74C377.64,422.49 379.59,422.30 381.53,422.30C383.48,422.30 385.55,422.49 387.37,422.74C389.20,422.98 390.78,423.52 392.48,423.76C394.18,424.00 395.89,424.25 397.59,424.20C399.29,424.15 401.47,423.71 402.70,423.47C403.94,423.22 403.89,422.98 405.00,422.74C406.11,422.49 407.92,422.01 409.38,422.01C410.84,422.01 412.30,422.13 413.76,422.74C415.22,423.35 416.56,424.64 418.14,425.66C419.72,426.68 421.55,428.07 423.25,428.87C424.95,429.67 426.65,430.09 428.36,430.47C430.06,430.86 431.76,430.74 433.47,431.20C435.17,431.67 436.87,432.71 438.58,433.25C440.28,433.78 441.98,434.27 443.69,434.42C445.39,434.56 446.97,434.61 448.80,434.12C450.62,433.64 452.81,432.30 454.64,431.50C456.46,430.69 458.16,429.74 459.74,429.31C461.33,428.87 462.66,428.75 464.12,428.87C465.58,428.99 467.04,429.65 468.50,430.04C469.96,430.43 471.42,431.33 472.88,431.20C474.34,431.08 475.80,429.94 477.26,429.31C478.72,428.67 480.30,427.70 481.64,427.41C482.98,427.12 483.95,427.24 485.29,427.55C486.63,427.87 488.21,428.82 489.67,429.31C491.13,429.79 492.71,430.35 494.05,430.47C495.39,430.60 496.61,430.35 497.70,430.04C498.80,429.72 499.92,428.93 500.62,428.58C501.32,428.23 501.69,428.04 501.90,427.94" stroke="#0CF60C"/>
<path d="M236.00,686.60C236.30,683.12 237.22,672.58 237.80,665.70C238.38,658.82 238.87,653.80 239.50,645.30C240.13,636.80 241.08,622.08 241.60,614.70C242.12,607.32 242.25,606.17 242.60,601.00C242.95,595.83 243.33,590.03 243.70,583.70C244.07,577.37 244.45,569.37 244.80,563.00C245.15,556.63 245.33,552.07 245.80,545.50C246.27,538.93 247.00,530.42 247.60,523.60C248.20,516.78 248.83,510.20 249.40,504.60C249.97,499.00 250.69,493.10 251.00,490.00C251.31,486.90 251.10,488.04 251.25,485.98C251.39,483.92 251.64,480.50 251.86,477.65C252.08,474.80 252.30,471.80 252.56,468.88C252.82,465.95 253.12,462.74 253.44,460.11C253.76,457.47 254.08,455.57 254.49,453.09C254.90,450.60 255.41,447.53 255.89,445.19C256.38,442.85 256.85,440.88 257.39,439.05C257.93,437.23 258.48,435.54 259.14,434.23C259.80,432.91 260.53,431.93 261.33,431.16C262.14,430.38 263.09,429.90 263.96,429.58C264.84,429.26 265.57,429.18 266.60,429.23C267.62,429.27 268.79,429.59 270.11,429.84C271.42,430.09 273.03,430.47 274.49,430.72C275.95,430.97 277.56,431.19 278.88,431.33C280.19,431.48 281.36,431.63 282.39,431.60C283.41,431.57 284.07,431.71 285.02,431.16C285.97,430.61 287.08,429.20 288.07,428.28C289.07,427.37 289.78,426.09 290.99,425.66C292.21,425.22 293.67,425.49 295.37,425.66C297.08,425.83 299.51,426.48 301.21,426.68C302.91,426.87 304.25,427.24 305.59,426.82C306.93,426.41 308.15,424.95 309.24,424.20C310.34,423.44 311.19,422.54 312.16,422.30C313.13,422.06 314.10,422.42 315.08,422.74C316.06,423.05 316.69,423.47 318.03,424.20C319.37,424.93 321.44,426.19 323.14,427.12C324.84,428.04 326.67,429.21 328.25,429.74C329.83,430.28 331.05,430.52 332.63,430.33C334.21,430.13 336.03,429.11 337.74,428.58C339.44,428.04 341.02,427.17 342.85,427.12C344.67,427.07 346.86,427.92 348.69,428.28C350.51,428.65 352.21,429.33 353.80,429.31C355.38,429.28 356.84,428.43 358.18,428.14C359.51,427.85 360.49,427.29 361.82,427.55C363.16,427.82 364.62,428.92 366.20,429.74C367.79,430.57 369.61,431.86 371.31,432.52C373.02,433.18 374.60,433.66 376.42,433.69C378.25,433.71 380.44,433.03 382.26,432.66C384.09,432.30 385.79,431.64 387.37,431.50C388.95,431.35 390.29,431.30 391.75,431.79C393.21,432.27 394.67,433.54 396.13,434.42C397.59,435.29 399.05,436.51 400.51,437.04C401.97,437.58 404.14,437.51 404.89,437.63C405.64,437.75 404.13,437.94 405.00,437.77C405.87,437.60 408.41,437.09 410.11,436.61C411.81,436.12 413.64,435.27 415.22,434.85C416.80,434.44 418.14,433.95 419.60,434.12C421.06,434.29 422.40,435.17 423.98,435.88C425.56,436.58 427.38,438.16 429.09,438.36C430.79,438.55 432.49,437.46 434.20,437.04C435.90,436.63 437.73,435.88 439.31,435.88C440.89,435.88 442.10,436.48 443.69,437.04C445.27,437.60 447.09,438.58 448.80,439.23C450.50,439.89 452.32,440.62 453.91,440.99C455.49,441.35 456.70,441.59 458.28,441.42C459.87,441.25 461.69,440.52 463.39,439.96C465.10,439.40 466.92,438.38 468.50,438.07C470.09,437.75 471.30,437.82 472.88,438.07C474.46,438.31 476.29,438.97 477.99,439.53C479.70,440.09 481.52,440.94 483.10,441.42C484.68,441.91 486.02,442.40 487.48,442.45C488.94,442.49 490.40,442.20 491.86,441.72C493.32,441.23 494.78,440.18 496.24,439.53C497.70,438.87 499.68,438.15 500.62,437.77C501.56,437.40 501.69,437.35 501.90,437.26" stroke="#FF1414"/>
<path d="M237.42,517.74C237.88,515.43 239.30,509.16 240.19,503.87C241.08,498.58 242.06,490.64 242.74,485.98C243.41,481.32 243.69,479.33 244.23,475.89C244.77,472.46 245.40,468.58 245.98,465.37C246.57,462.15 247.08,459.52 247.74,456.60C248.39,453.67 249.20,450.46 249.93,447.82C250.66,445.19 251.32,443.15 252.12,440.81C252.93,438.47 253.88,435.98 254.75,433.79C255.63,431.60 256.44,429.48 257.39,427.65C258.34,425.82 259.43,424.07 260.46,422.82C261.48,421.58 262.43,420.81 263.53,420.19C264.62,419.58 265.94,419.18 267.04,419.14C268.13,419.10 269.01,419.46 270.11,419.93C271.20,420.40 272.44,421.25 273.61,421.95C274.78,422.65 276.03,423.51 277.12,424.14C278.22,424.77 279.17,425.32 280.19,425.72C281.22,426.11 281.46,426.47 283.26,426.51C285.06,426.55 288.97,425.90 290.99,425.95C293.01,426.00 293.91,426.22 295.37,426.82C296.83,427.43 298.29,428.65 299.75,429.60C301.21,430.55 302.79,431.84 304.13,432.52C305.47,433.20 306.32,433.61 307.78,433.69C309.24,433.76 311.18,432.59 312.89,432.96C314.60,433.32 316.32,434.66 318.03,435.88C319.74,437.09 321.44,438.87 323.14,440.26C324.84,441.64 326.67,443.35 328.25,444.20C329.83,445.05 331.29,445.54 332.63,445.36C333.97,445.19 335.06,443.78 336.28,443.18C337.49,442.57 338.71,441.64 339.93,441.72C341.14,441.79 342.24,442.88 343.58,443.61C344.91,444.34 346.50,445.61 347.96,446.09C349.42,446.58 351.00,447.02 352.34,446.53C353.67,446.05 354.77,444.27 355.99,443.18C357.20,442.08 358.54,440.50 359.64,439.96C360.73,439.43 361.34,439.60 362.55,439.96C363.77,440.33 365.47,441.42 366.93,442.15C368.39,442.88 369.85,443.93 371.31,444.34C372.77,444.76 374.11,444.83 375.69,444.64C377.27,444.44 379.10,443.61 380.80,443.18C382.51,442.74 384.45,442.13 385.91,442.01C387.37,441.89 388.22,442.01 389.56,442.45C390.90,442.88 392.60,444.15 393.94,444.64C395.28,445.12 396.01,445.49 397.59,445.36C399.17,445.24 402.20,444.27 403.43,443.91C404.67,443.54 404.01,443.37 405.00,443.18C405.99,442.98 407.92,442.66 409.38,442.74C410.84,442.81 412.18,443.13 413.76,443.61C415.34,444.10 417.17,445.05 418.87,445.66C420.57,446.27 422.40,446.87 423.98,447.26C425.56,447.65 426.78,447.99 428.36,447.99C429.94,447.99 431.76,447.63 433.47,447.26C435.17,446.90 436.75,446.41 438.58,445.80C440.40,445.19 442.47,444.29 444.42,443.61C446.36,442.93 448.31,442.32 450.26,441.72C452.20,441.11 454.15,440.50 456.09,439.96C458.04,439.43 459.99,438.94 461.93,438.50C463.88,438.07 465.83,437.60 467.77,437.34C469.72,437.07 471.42,437.02 473.61,436.90C475.80,436.78 478.48,436.70 480.91,436.61C483.35,436.51 485.78,436.39 488.21,436.31C490.64,436.24 493.44,436.19 495.51,436.17C497.58,436.14 499.56,436.17 500.62,436.17C501.69,436.17 501.69,436.17 501.90,436.17" stroke="#1684FF"/>
<path d="M236.98,520.66C237.56,517.98 239.35,510.38 240.48,504.60C241.62,498.82 242.95,490.47 243.79,485.98C244.63,481.49 244.89,480.50 245.54,477.65C246.20,474.80 247.01,471.65 247.74,468.88C248.47,466.10 249.13,463.61 249.93,460.98C250.73,458.35 251.68,455.57 252.56,453.09C253.44,450.60 254.32,448.12 255.19,446.07C256.07,444.02 256.87,442.34 257.82,440.81C258.77,439.27 259.87,438.03 260.89,436.86C261.92,435.69 263.01,434.89 263.96,433.79C264.92,432.69 265.79,431.38 266.60,430.28C267.40,429.18 268.06,427.97 268.79,427.21C269.52,426.45 270.18,426.01 270.98,425.72C271.79,425.43 272.59,425.40 273.61,425.46C274.64,425.51 276.10,425.97 277.12,426.07C278.15,426.17 279.02,426.39 279.75,426.07C280.49,425.75 281.07,424.97 281.51,424.14C281.95,423.31 281.95,421.83 282.39,421.07C282.82,420.31 283.48,419.87 284.14,419.58C284.80,419.29 285.56,419.20 286.33,419.32C287.11,419.43 287.54,419.81 288.80,420.26C290.07,420.70 292.33,421.59 293.91,422.01C295.49,422.42 296.95,422.69 298.29,422.74C299.63,422.79 300.73,422.83 301.94,422.30C303.16,421.76 304.37,420.26 305.59,419.53C306.81,418.80 308.02,417.99 309.24,417.92C310.46,417.85 311.43,418.41 312.89,419.09C314.36,419.77 316.69,421.93 318.03,422.01C319.37,422.08 319.85,419.53 320.95,419.53C322.04,419.53 323.26,421.35 324.60,422.01C325.94,422.66 327.40,423.47 328.98,423.47C330.56,423.47 332.38,422.49 334.09,422.01C335.79,421.52 337.49,420.55 339.20,420.55C340.90,420.55 342.60,421.47 344.31,422.01C346.01,422.54 347.83,423.69 349.42,423.76C351.00,423.83 352.34,422.62 353.80,422.45C355.26,422.27 356.72,422.32 358.18,422.74C359.64,423.15 361.09,424.49 362.55,424.93C364.01,425.36 365.47,425.68 366.93,425.36C368.39,425.05 369.98,423.64 371.31,423.03C372.65,422.42 373.75,421.52 374.96,421.72C376.18,421.91 377.27,423.49 378.61,424.20C379.95,424.90 381.53,426.02 382.99,425.95C384.45,425.88 385.91,424.54 387.37,423.76C388.83,422.98 390.54,421.76 391.75,421.28C392.97,420.79 393.45,420.60 394.67,420.84C395.89,421.08 397.59,422.42 399.05,422.74C400.51,423.05 402.44,422.86 403.43,422.74C404.42,422.62 404.13,422.32 405.00,422.01C405.87,421.69 407.43,421.08 408.65,420.84C409.87,420.60 411.08,420.23 412.30,420.55C413.52,420.86 414.73,421.64 415.95,422.74C417.17,423.83 418.38,425.71 419.60,427.12C420.82,428.53 422.15,430.35 423.25,431.20C424.34,432.06 425.19,432.35 426.17,432.23C427.14,432.10 427.99,431.33 429.09,430.47C430.18,429.62 431.52,428.04 432.74,427.12C433.95,426.19 435.05,425.34 436.39,424.93C437.73,424.51 439.18,424.56 440.77,424.64C442.35,424.71 444.17,425.15 445.88,425.36C447.58,425.58 449.40,425.83 450.99,425.95C452.57,426.07 454.15,426.31 455.36,426.09C456.58,425.88 457.31,424.90 458.28,424.64C459.26,424.37 459.99,424.20 461.20,424.49C462.42,424.78 464.00,425.58 465.58,426.39C467.17,427.19 468.99,428.45 470.69,429.31C472.40,430.16 474.22,430.89 475.80,431.50C477.38,432.10 478.72,432.66 480.18,432.96C481.64,433.25 483.10,433.25 484.56,433.25C486.02,433.25 487.36,432.88 488.94,432.96C490.52,433.03 492.47,433.49 494.05,433.69C495.63,433.88 497.34,434.08 498.43,434.12C499.53,434.17 500.04,434.02 500.62,433.98C501.20,433.94 501.69,433.91 501.90,433.89" stroke="#9A0CFF"/>
</g>
<text x="220.80" y="720.20" text-anchor="middle" class="tk">0</text>
<text x="248.83" y="720.20" text-anchor="middle" class="tk">2</text>
<text x="276.86" y="720.20" text-anchor="middle" class="tk">4</text>
<text x="304.89" y="720.20" text-anchor="middle" class="tk">6</text>
<text x="332.92" y="720.20" text-anchor="middle" class="tk">8</text>
<text x="360.95" y="720.20" text-anchor="middle" class="tk">10</text>
<text x="388.98" y="720.20" text-anchor="middle" class="tk">12</text>
<text x="417.01" y="720.20" text-anchor="middle" class="tk">14</text>
<text x="445.04" y="720.20" text-anchor="middle" class="tk">16</text>
<text x="473.07" y="720.20" text-anchor="middle" class="tk">18</text>
<text x="501.10" y="720.20" text-anchor="middle" class="tk">20</text>
<text x="219.10" y="405.10" text-anchor="end" class="tk ty">0.80</text>
<text x="219.10" y="435.75" text-anchor="end" class="tk ty">0.79</text>
<text x="219.10" y="466.40" text-anchor="end" class="tk ty">0.78</text>
<text x="219.10" y="497.05" text-anchor="end" class="tk ty">0.77</text>
<text x="219.10" y="527.70" text-anchor="end" class="tk ty">0.76</text>
<text x="219.10" y="558.35" text-anchor="end" class="tk ty">0.75</text>
<text x="219.10" y="589.00" text-anchor="end" class="tk ty">0.74</text>
<text x="219.10" y="619.65" text-anchor="end" class="tk ty">0.73</text>
<text x="219.10" y="650.30" text-anchor="end" class="tk ty">0.72</text>
<text x="219.10" y="680.95" text-anchor="end" class="tk ty">0.71</text>
<text x="219.10" y="711.60" text-anchor="end" class="tk ty">0.70</text>
<text x="360.95" y="735.90" text-anchor="middle" class="ax" style="font-size:17.4px">Epoch</text>
<text transform="translate(190.20,553.65) rotate(-90)" text-anchor="middle" class="ax">Marco-F1</text>
<path d="M335.90,573.00h23.00" stroke="#0CF60C" stroke-width="1.6" fill="none"/>
<text x="361.70" y="577.20" class="lg" style="font-size:12.8px">Add</text>
<path d="M335.90,589.37h23.00" stroke="#FF1414" stroke-width="1.6" fill="none"/>
<text x="361.70" y="593.57" class="lg" style="font-size:12.8px">Cat</text>
<path d="M335.90,605.74h23.00" stroke="#1684FF" stroke-width="1.6" fill="none"/>
<text x="361.70" y="609.94" class="lg" style="font-size:12.8px">Multipty</text>
<path d="M335.90,622.11h23.00" stroke="#9A0CFF" stroke-width="1.6" fill="none"/>
<text x="361.70" y="626.31" class="lg" style="font-size:12.8px">Attention</text>
</g>
<text x="109" y="375.5" text-anchor="middle" class="cp">(a)</text>
<text x="592.6" y="375.5" text-anchor="middle" class="cp">(b)</text>
<text x="340.8" y="770.6" text-anchor="middle" class="cp">(c)</text>
</svg>
</body></html>
